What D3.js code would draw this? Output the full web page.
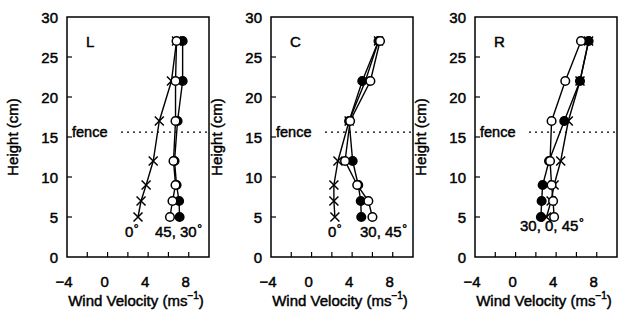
<!DOCTYPE html>
<html><head><meta charset="utf-8">
<script src="https://cdn.jsdelivr.net/npm/d3@7"></script>
<style>
html,body{margin:0;padding:0;background:#fff;}
text{font-family:"Liberation Sans",Arial,sans-serif;fill:#000;stroke:#000;stroke-width:0.45px;}
</style></head>
<body>
<svg id="chart" width="629" height="322"></svg>
<script>
const heights = [5, 7, 9, 12, 17, 22, 27];
const panelNames = ["L", "C", "R"];
// Left panel
const L_cross = [3.0, 3.3, 3.8, 4.5, 5.1, 6.3, 6.8];
const L_filled = [7.1, 7.05, 6.8, 6.6, 6.9, 7.4, 7.4];
const L_open = [6.15, 6.4, 6.7, 6.5, 6.7, 6.7, 6.8];
// Centre panel
const C_cross = [2.3, 2.2, 2.2, 2.6, 3.7, 5.3, 6.6];
const C_filled = [4.9, 4.85, 4.6, 4.05, 3.7, 5.0, 6.6];
const C_open = [6.0, 5.6, 4.5, 3.3, 3.8, 5.8, 6.75];
// Right panel
const R_cross = [3.05, 3.5, 3.8, 4.45, 5.2, 6.35, 7.2];
const R_filled = [2.5, 2.57, 2.67, 3.3, 4.8, 6.35, 7.2];
const R_open = [3.8, 3.7, 3.55, 3.4, 3.55, 4.9, 6.45];
const annotations = [["0°", "45, 30°"], ["0°", "30, 45°"], ["30, 0, 45°"]];
const xTickLabels = [-4, 0, 4, 8];
const xMinorTicks = [-2, 0, 2, 4, 6, 8];
const yTickLabels = [0, 5, 10, 15, 20, 25, 30];
const fenceHeight = 15.6;

const panels = [
  {name: "L", cross: L_cross, filled: L_filled, open: L_open},
  {name: "C", cross: C_cross, filled: C_filled, open: C_open},
  {name: "R", cross: R_cross, filled: R_filled, open: R_open}
];

const svg = d3.select("#chart");
const x0s = [67, 271, 475];
const pw = 142, plotTop = 17, plotBottom = 257;

panels.forEach((p, i) => {
  const left = x0s[i];
  const x = d3.scaleLinear().domain([-4, 10]).range([left, left + pw]);
  const y = d3.scaleLinear().domain([0, 30]).range([plotBottom, plotTop]);
  const g = svg.append("g");

  g.append("rect").attr("x", left).attr("y", plotTop).attr("width", pw).attr("height", plotBottom - plotTop)
    .attr("fill", "none").attr("stroke", "#000").attr("stroke-width", 1.5);

  g.selectAll(".yt").data(yTickLabels.filter(v => v > 0 && v < 30)).enter().append("line")
    .attr("x1", left).attr("x2", left + 5).attr("y1", d => y(d)).attr("y2", d => y(d))
    .attr("stroke", "#000").attr("stroke-width", 1.2);
  g.selectAll(".xt").data(xMinorTicks).enter().append("line")
    .attr("x1", d => x(d)).attr("x2", d => x(d)).attr("y1", plotBottom).attr("y2", plotBottom - 5)
    .attr("stroke", "#000").attr("stroke-width", 1.2);

  g.selectAll(".yl").data(yTickLabels).enter().append("text")
    .attr("x", left - 9).attr("y", d => y(d) + 5.5).attr("text-anchor", "end")
    .style("font-size", "15px").text(d => d);
  g.selectAll(".xl").data(xTickLabels).enter().append("text")
    .attr("x", d => x(d) - 3).attr("y", 287).attr("text-anchor", "middle")
    .style("font-size", "15px").text(d => d < 0 ? "\u2212" + Math.abs(d) : d);

  const xt = g.append("text").attr("x", left + pw / 2 - 2).attr("y", 306).attr("text-anchor", "middle")
    .style("font-size", "15px");
  xt.append("tspan").text("Wind Velocity (ms");
  xt.append("tspan").attr("dy", -7).style("font-size", "10px").text("\u22121");
  xt.append("tspan").attr("dy", 7).text(")");
  g.append("text").attr("transform", `translate(${left - 49},${(plotTop + plotBottom) / 2}) rotate(-90)`)
    .attr("text-anchor", "middle").style("font-size", "15px").text("Height (cm)");

  g.append("text").attr("x", left + 19).attr("y", 47).style("font-size", "15px").text(p.name);

  g.append("text").attr("x", left + 5).attr("y", y(fenceHeight) + 5).style("font-size", "14.5px").text("fence");
  g.append("line").attr("x1", left + 54).attr("x2", left + pw).attr("y1", y(fenceHeight)).attr("y2", y(fenceHeight))
    .attr("stroke", "#000").attr("stroke-width", 1.3).attr("stroke-dasharray", "2,4");

  const line = d3.line().x(d => x(d[0])).y(d => y(d[1]));
  const series = [
    {vals: p.cross, type: "cross"},
    {vals: p.filled, type: "filled"},
    {vals: p.open, type: "open"}
  ];
  series.forEach(s => {
    const pts = s.vals.map((v, k) => [v, heights[k]]);
    g.append("path").attr("d", line(pts)).attr("fill", "none").attr("stroke", "#000").attr("stroke-width", 1.4);
  });
  series.forEach(s => {
    const pts = s.vals.map((v, k) => [v, heights[k]]);
    if (s.type === "cross") {
      const r = 4.5;
      pts.forEach(pt => {
        const cx = x(pt[0]), cy = y(pt[1]);
        g.append("path").attr("d", `M${cx - r},${cy - r}L${cx + r},${cy + r}M${cx - r},${cy + r}L${cx + r},${cy - r}`)
          .attr("stroke", "#000").attr("stroke-width", 1.5).attr("fill", "none");
      });
    } else {
      g.selectAll(null).data(pts).enter().append("circle")
        .attr("cx", d => x(d[0])).attr("cy", d => y(d[1])).attr("r", 4.3)
        .attr("fill", s.type === "filled" ? "#000" : "#fff")
        .attr("stroke", "#000").attr("stroke-width", 1.5);
    }
  });

  const ann = annotations[i];
  const annPos = i === 0 ? [[125, 237], [155, 237]] : i === 1 ? [[328, 237], [360, 237]] : [[520, 231]];
  ann.forEach((a, k) => {
    const t = g.append("text").attr("x", annPos[k][0]).attr("y", annPos[k][1]).style("font-size", "15px");
    const base = a.replace("°", "");
    t.append("tspan").text(base);
    t.append("tspan").attr("dy", -4).attr("dx", 0.5).style("font-size", "12px").text("°");
  });
});
</script>
</body></html>
